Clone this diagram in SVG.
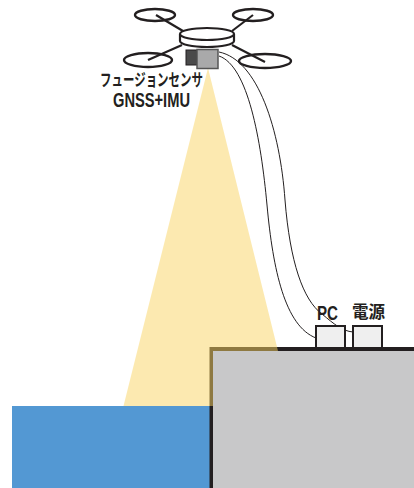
<svg xmlns="http://www.w3.org/2000/svg" width="414" height="488" viewBox="0 0 414 488">
  <style>
    .ink { fill: none; stroke: #231f20; stroke-width: 2.2; }
    .prop { fill: none; stroke: #231f20; stroke-width: 2.4; }
    .cable { fill: none; stroke: #231f20; stroke-width: 1; }
    .box { fill: #efefef; stroke: #231f20; stroke-width: 2; }
    .lbl { font-family: "Liberation Sans", "Noto Sans CJK JP", sans-serif; font-weight: bold; fill: #231f20; }
  </style>

  <!-- ground: water and quay -->
  <g id="water">
    <rect x="12" y="406" width="200" height="82" fill="#5398d3"/>
  </g>
  <g id="quay">
    <rect x="209.5" y="347" width="204.5" height="141" fill="#231f20"/>
  </g>

  <!-- sensing footprint, translucent over the quay edge -->
  <g id="beam">
    <polygon points="208,68 278,351 213,351 213,406 123.5,406" fill="#f9d361" fill-opacity="0.5"/>
  </g>
  <g id="quay-top">
    <rect x="213" y="351" width="201" height="137" fill="#c8c8c9"/>
  </g>

  <!-- drone -->
  <g id="drone">
    <line class="ink" x1="156" y1="15" x2="183" y2="31"/>
    <line class="ink" x1="253" y1="15" x2="232" y2="31"/>
    <line class="ink" x1="148" y1="60" x2="182" y2="45"/>
    <line class="ink" x1="265" y1="62" x2="232" y2="45"/>
    <ellipse class="prop" cx="155" cy="15" rx="20" ry="6"/>
    <ellipse class="prop" cx="253" cy="15" rx="20" ry="6"/>
    <ellipse class="prop" cx="148" cy="60" rx="24" ry="7"/>
    <ellipse class="prop" cx="265" cy="61" rx="26" ry="7"/>
    <path d="M180,34 V41 A27,6 0 0 0 234,41 V34" fill="#ffffff" stroke="#231f20" stroke-width="2.2"/>
    <ellipse cx="207" cy="34" rx="27" ry="6" fill="#ffffff" stroke="#231f20" stroke-width="2.2"/>
  </g>

  <!-- fusion sensor head -->
  <g id="sensor">
    <rect x="186" y="50" width="11" height="15" fill="#4a4a4a" stroke="#231f20" stroke-width="1"/>
    <rect x="197" y="49.5" width="21" height="19" fill="#a9a9aa" stroke="#555555" stroke-width="1.5"/>
  </g>

  <!-- cables from the sensor to the ground equipment -->
  <g id="cables">
    <path class="cable" d="M219,56 C248,66 261,140 267,205 C273,270 285,326 316,338"/>
    <path class="cable" d="M219,52 C258,60 280,130 285,200 C290,262 303,300 322,314 C334,324 342,331 353,332"/>
  </g>

  <!-- ground equipment -->
  <g id="pc">
    <rect class="box" x="316" y="326" width="29" height="22"/>
    <text class="lbl" x="327.5" y="320" font-size="20" text-anchor="middle" textLength="21" lengthAdjust="spacingAndGlyphs">PC</text>
  </g>
  <g id="power">
    <rect class="box" x="353" y="326" width="29" height="22"/>
    <text class="lbl" x="368.5" y="318" font-size="17" text-anchor="middle" textLength="33" lengthAdjust="spacingAndGlyphs">電源</text>
  </g>

  <!-- sensor caption -->
  <g id="caption">
    <text class="lbl" x="151.5" y="86" font-size="17" text-anchor="middle" textLength="103" lengthAdjust="spacingAndGlyphs">フュージョンセンサ</text>
    <text class="lbl" x="151.5" y="107" font-size="20" text-anchor="middle" textLength="77" lengthAdjust="spacingAndGlyphs">GNSS+IMU</text>
  </g>
</svg>
